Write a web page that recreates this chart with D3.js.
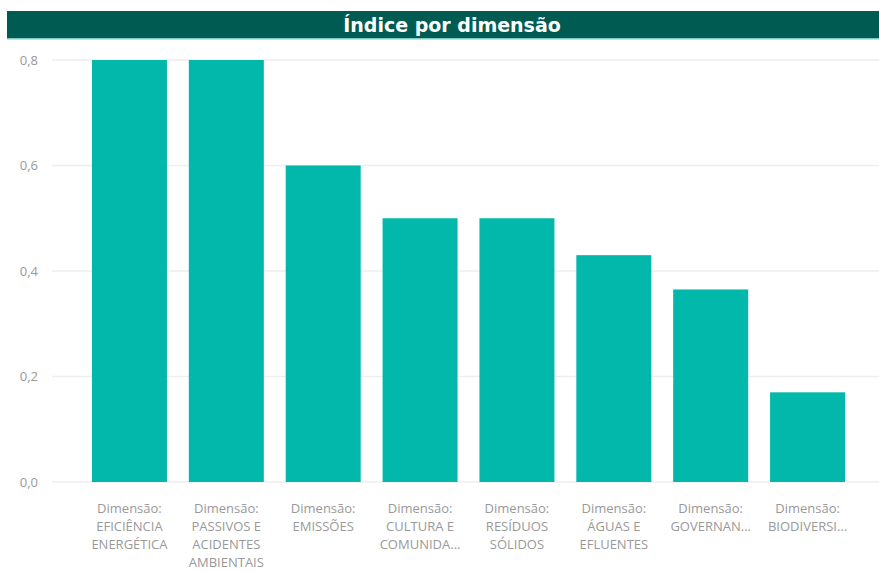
<!DOCTYPE html>
<html>
<head>
<meta charset="utf-8">
<script src="https://cdn.jsdelivr.net/npm/d3@7"></script>
<style>
  body { margin: 0; background: #fff; }
  text { font-family: "Open Sans", "Noto Sans", sans-serif; }
</style>
</head>
<body>
<script>
var categories = [
  ["Dimensão:", "EFICIÊNCIA", "ENERGÉTICA"],
  ["Dimensão:", "PASSIVOS E", "ACIDENTES", "AMBIENTAIS"],
  ["Dimensão:", "EMISSÕES"],
  ["Dimensão:", "CULTURA E", "COMUNIDA..."],
  ["Dimensão:", "RESÍDUOS", "SÓLIDOS"],
  ["Dimensão:", "ÁGUAS E", "EFLUENTES"],
  ["Dimensão:", "GOVERNAN..."],
  ["Dimensão:", "BIODIVERSI..."]
];
var values = [0.8, 0.8, 0.6, 0.5, 0.5, 0.43, 0.365, 0.17];
var yTicks = [0, 0.2, 0.4, 0.6, 0.8];
var title = "Índice por dimensão";

var width = 879, height = 571;

var svg = d3.select("body").append("svg")
    .attr("width", width)
    .attr("height", height);

// title bar
svg.append("rect")
    .attr("x", 7).attr("y", 11)
    .attr("width", width - 7).attr("height", 27)
    .attr("fill", "#005c53");
svg.append("rect")
    .attr("x", 7).attr("y", 38)
    .attr("width", width - 7).attr("height", 1.5)
    .attr("fill", "#7fc9c1");
svg.append("text")
    .attr("x", 452).attr("y", 31.5)
    .attr("text-anchor", "middle")
    .attr("fill", "#fff")
    .style("font-family", "'DejaVu Sans', sans-serif")
    .style("font-size", "19px")
    .style("font-weight", "bold")
    .text(title);

var x = d3.scaleBand()
    .domain(d3.range(categories.length))
    .range([81, 856])
    .paddingInner(0.226)
    .paddingOuter(0.113);

var y = d3.scaleLinear()
    .domain([0, 0.8])
    .range([482, 60]);

// gridlines
svg.append("g")
  .selectAll("line")
  .data(yTicks)
  .enter().append("line")
    .attr("x1", 52).attr("x2", width)
    .attr("y1", function(d) { return y(d); })
    .attr("y2", function(d) { return y(d); })
    .attr("stroke", "#eeeeee")
    .attr("stroke-width", 1.5);

// y axis labels
var yAxis = svg.append("g")
    .attr("transform", "translate(42,0)")
    .call(d3.axisLeft(y).tickValues(yTicks).tickSize(0).tickPadding(4)
      .tickFormat(function(d) { return d3.format(".1f")(d).replace(".", ","); }));
yAxis.select(".domain").remove();
yAxis.selectAll("text")
    .attr("fill", "#999")
    .style("font-size", "13px");

// bars
svg.append("g")
  .selectAll("rect")
  .data(values)
  .enter().append("rect")
    .attr("x", function(d, i) { return x(i); })
    .attr("y", function(d) { return y(d); })
    .attr("width", x.bandwidth())
    .attr("height", function(d) { return y(0) - y(d); })
    .attr("fill", "#01b8aa");

// category labels
var labels = svg.append("g")
  .selectAll("text")
  .data(categories)
  .enter().append("text")
    .attr("text-anchor", "middle")
    .attr("fill", "#999")
    .style("font-size", "13px")
    .attr("transform", function(d, i) {
      return "translate(" + (x(i) + x.bandwidth() / 2) + ",513)";
    });

labels.selectAll("tspan")
  .data(function(d) { return d; })
  .enter().append("tspan")
    .attr("x", 0)
    .attr("y", function(d, i) { return i * 18; })
    .text(function(d) { return d; });
</script>
</body>
</html>
